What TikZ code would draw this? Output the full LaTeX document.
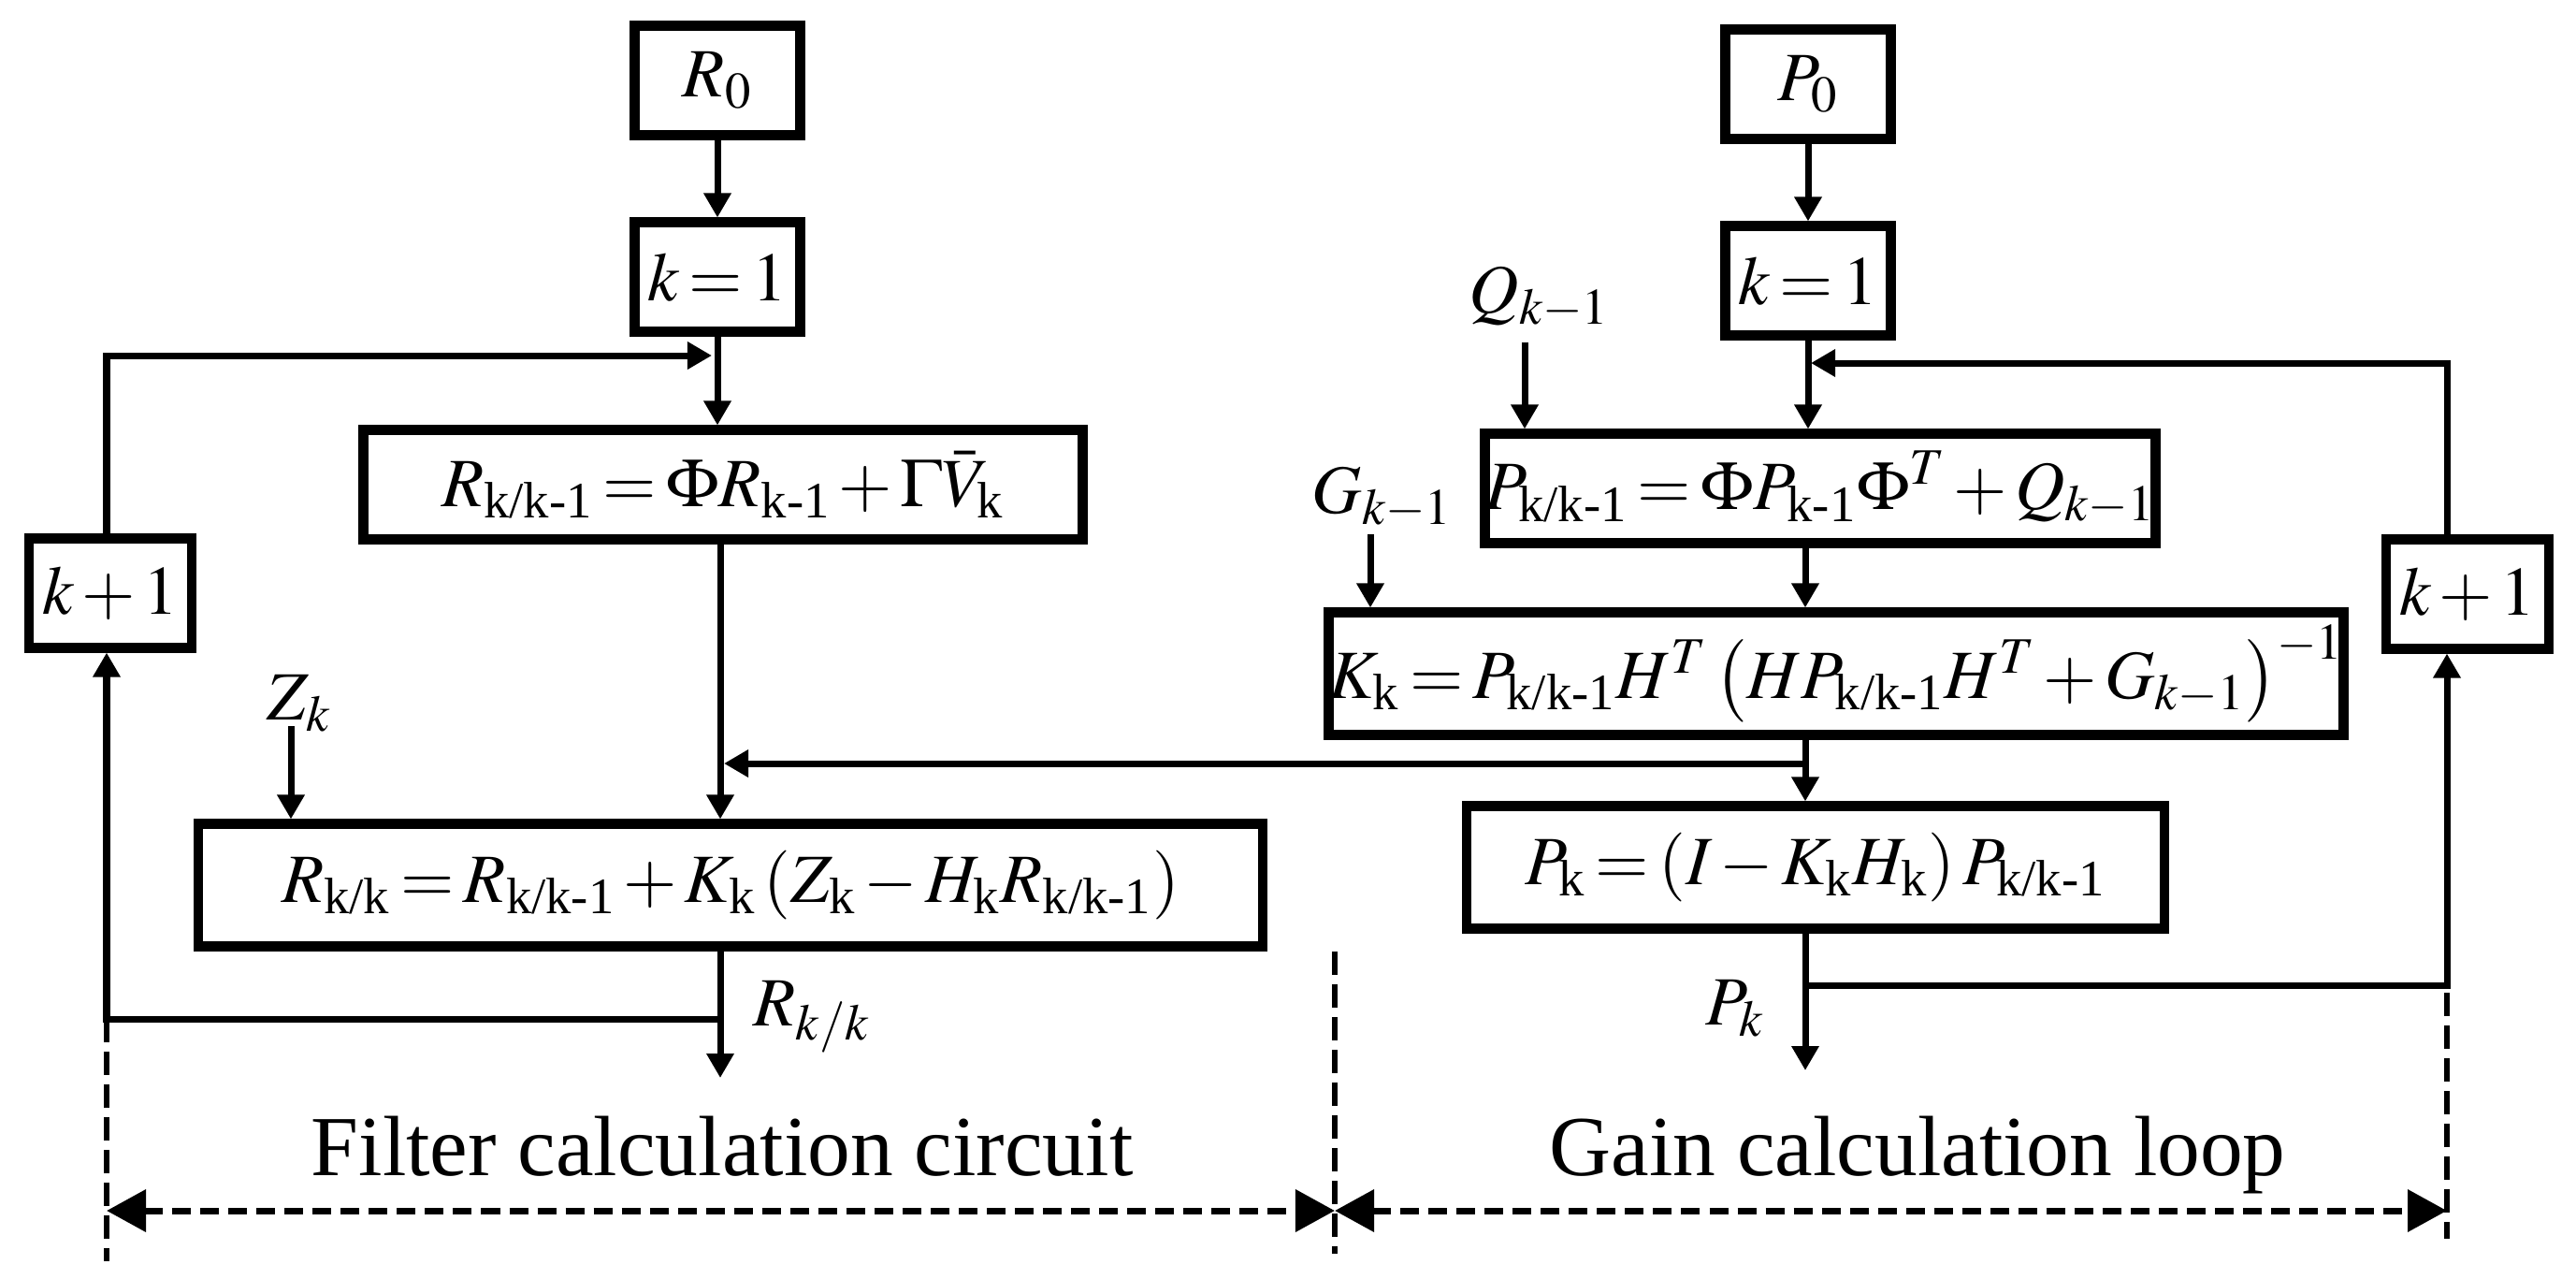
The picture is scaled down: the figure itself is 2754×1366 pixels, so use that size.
\documentclass[tikz,border=0pt]{standalone}
\usepackage{amsmath}
\usepackage{mathptmx}
\usepackage{fontspec}
\setmainfont{Liberation Serif}
\usetikzlibrary{arrows.meta}
\newcommand{\rs}[1]{\text{#1}}
\thickmuskip=2.5mu plus 1mu
\medmuskip=2mu plus 1mu

\begin{document}
\begin{tikzpicture}[x=0.01cm, y=-0.01cm,
  >={Triangle[length=0.26cm,width=0.28cm]},
  every node/.style={font=\fontsize{21}{25}\selectfont},
  box/.style={draw, line width=0.105cm, inner sep=0pt, minimum height=1.165cm},
  tall/.style={box, minimum height=1.305cm},
  link/.style={line width=0.07cm},
  guide/.style={line width=0.06cm, dash pattern=on 0.25cm off 0.1cm},
  span/.style={<->, >={Triangle[length=0.42cm,width=0.44cm]}, line width=0.07cm, dash pattern=on 0.2cm off 0.1cm}]
\useasboundingbox (0,0) rectangle (2754,1366);
\node[box, minimum width=1.77cm] (r0) at (767,86) {$R_0$};
\node[box, minimum width=1.77cm] (rk1) at (767,296) {$k=1$};
\node[box, minimum width=1.77cm] (p0) at (1933,90) {$P_0$};
\node[box, minimum width=1.77cm] (pk1) at (1933,300) {$k=1$};
\node[box, minimum width=7.685cm] (rpred) at (773,518) {$R_{\rs{k/k-1}}=\Phi R_{\rs{k-1}}+\Gamma\bar{V}_{\rs{k}}$};
\node[tall, minimum width=11.375cm] (rest) at (781,946) {$R_{\rs{k/k}}=R_{\rs{k/k-1}}+K_{\rs{k}}\left(Z_{\rs{k}}-H_{\rs{k}}R_{\rs{k/k-1}}\right)$};
\node[box, minimum width=6.915cm] (ppred) at (1946,522) {$P_{\rs{k/k-1}}=\Phi P_{\rs{k-1}}\Phi^{T}+Q_{k-1}$};
\node[tall, minimum width=10.655cm] (gain) at (1963,720) {$K_{\rs{k}}=P_{\rs{k/k-1}}H^{T}\left(HP_{\rs{k/k-1}}H^{T}+G_{k-1}\right)^{-1}$};
\node[tall, minimum width=7.455cm] (pest) at (1941,927) {$P_{\rs{k}}=\left(I-K_{\rs{k}}H_{\rs{k}}\right)P_{\rs{k/k-1}}$};
\node[box, minimum width=1.735cm] (kl) at (118,634) {$k+1$};
\node[box, minimum width=1.735cm] (kr) at (2638,635) {$k+1$};
\node (q) at (1646,318) {$Q_{k-1}$};
\node (g) at (1478,532) {$G_{k-1}$};
\node (z) at (320,752) {$Z_k$};
\node (rl) at (868,1087) {$R_{k/k}$};
\node (pl) at (1855,1078) {$P_k$};
\node[font=\fontsize{26}{31}\selectfont, anchor=base] (fc) at (772,1256) {Filter calculation circuit};
\node[font=\fontsize{26}{31}\selectfont, anchor=base] (gc) at (2050,1256) {Gain calculation loop};
\coordinate (lc) at (770,0);
\coordinate (rc) at (1930,0);
\coordinate (xl) at (114,0);
\coordinate (xr) at (2616,0);
\coordinate (fl) at (761,380);
\coordinate (fr) at (1936,388);
\coordinate (bl) at (770,1089);
\coordinate (br) at (1930,1053);
\coordinate (rout) at (770,1152);
\coordinate (pout) at (1930,1144);
\coordinate (kj) at (1930,816);
\coordinate (rj) at (774,816);
\coordinate (qin) at (1630,366);
\coordinate (gin) at (1465,571);
\coordinate (zin) at (311,776);
\draw[link,->] (r0) -- (rk1);
\draw[link,->] (rk1) -- (rk1 |- rpred.north);
\draw[link,->] (rpred.south -| lc) -- (lc |- rest.north);
\draw[link,->] (rest.south -| lc) -- (rout);
\draw[link,->] (bl) -| (kl.south -| xl);
\draw[link,->] (kl.north -| xl) |- (fl);
\draw[link,->] (kj) -- (rj);
\draw[link,->] (zin) -- (zin |- rest.north);
\draw[link,->] (p0) -- (pk1);
\draw[link,->] (pk1) -- (pk1 |- ppred.north);
\draw[link,->] (ppred.south -| rc) -- (rc |- gain.north);
\draw[link,->] (gain.south -| rc) -- (rc |- pest.north);
\draw[link,->] (pest.south -| rc) -- (pout);
\draw[link,->] (br) -| (kr.south -| xr);
\draw[link,->] (kr.north -| xr) |- (fr);
\draw[link,->] (qin) -- (qin |- ppred.north);
\draw[link,->] (gin) -- (gin |- gain.north);
\foreach \x/\a/\b in {114/1089/1348, 1427/1017/1340, 2616/1061/1324}
  \draw[guide] (\x,\a) -- (\x,\b);
\coordinate (sl) at (114,1294);
\coordinate (sm) at (1427,1294);
\coordinate (sr) at (2616,1294);
\draw[span] (sl) -- (sm);
\draw[span] (sm) -- (sr);
\end{tikzpicture}
\end{document}
